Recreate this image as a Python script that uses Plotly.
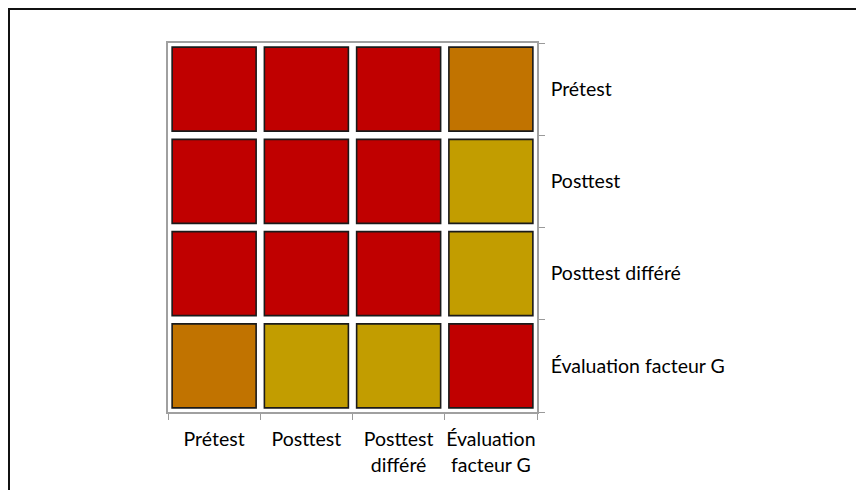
import plotly.graph_objects as go

# Data
variables = ["Prétest", "Posttest", "Posttest différé", "Évaluation facteur G"]
x_tick_labels = ["Prétest", "Posttest", "Posttest<br>différé", "Évaluation<br>facteur G"]
y_tick_labels = ["Prétest", "Posttest", "Posttest différé", "Évaluation facteur G"]
# strength level of the association between each pair (3 = strong, 2 = moderate, 1 = weak)
levels = [
    [3, 3, 3, 2],
    [3, 3, 3, 1],
    [3, 3, 3, 1],
    [2, 1, 1, 3],
]
level_colors = {3: "#C00000", 2: "#C17300", 1: "#C29D00"}

xs, ys, cs, texts = [], [], [], []
for i, row in enumerate(levels):
    for j, v in enumerate(row):
        xs.append(j)
        ys.append(i)
        cs.append(level_colors[v])
        texts.append(f"{variables[i]} × {variables[j]}: {v}")

OFF = 8  # page body offset
W, H = 864 - OFF, 490 - OFF
L, R, T, B = 168 - OFF, 537 - OFF, 43 - OFF, 412 - OFF
pw, ph = R - L, B - T

fig = go.Figure(go.Scatter(
    x=xs, y=ys, mode="markers",
    marker=dict(symbol="square", size=84, color=cs,
                line=dict(color="#1a1a1a", width=1.6)),
    text=texts, hoverinfo="text", showlegend=False,
))

axis_common = dict(
    showgrid=False, zeroline=False, showline=True, mirror=True,
    linecolor="#A0A0A0", linewidth=1.5,
    ticks="", ticklen=0,
    tickfont=dict(family="Lato, Open Sans, sans-serif", size=19.5, color="#000000"),
    minor=dict(tickvals=[-0.5, 0.5, 1.5, 2.5, 3.5], ticks="outside",
               ticklen=6, tickwidth=1.3, tickcolor="#9A9A9A", showgrid=False),
    fixedrange=True,
)

fig.update_xaxes(range=[-0.5, 3.5], tickvals=[0, 1, 2, 3], ticktext=x_tick_labels,
                 ticklabelstandoff=9, **axis_common)
fig.update_yaxes(range=[3.5, -0.5], tickvals=[0, 1, 2, 3], ticktext=y_tick_labels,
                 side="right", ticklabelstandoff=8, **axis_common)

# outer frame (partially cropped document frame)
fx0 = (8 - OFF + 1 - L) / pw
fy1 = 1 + (T - (9 - OFF)) / ph
fig.add_shape(type="path", xref="paper", yref="paper",
              path=f"M {fx0},-0.5 L {fx0},{fy1} L 2,{fy1}",
              line=dict(color="#111111", width=2))

fig.update_layout(
    width=W, height=H,
    margin=dict(l=L, r=W - R, t=T, b=H - B, autoexpand=False),
    paper_bgcolor="white", plot_bgcolor="white",
)

fig.write_html("out.html")
